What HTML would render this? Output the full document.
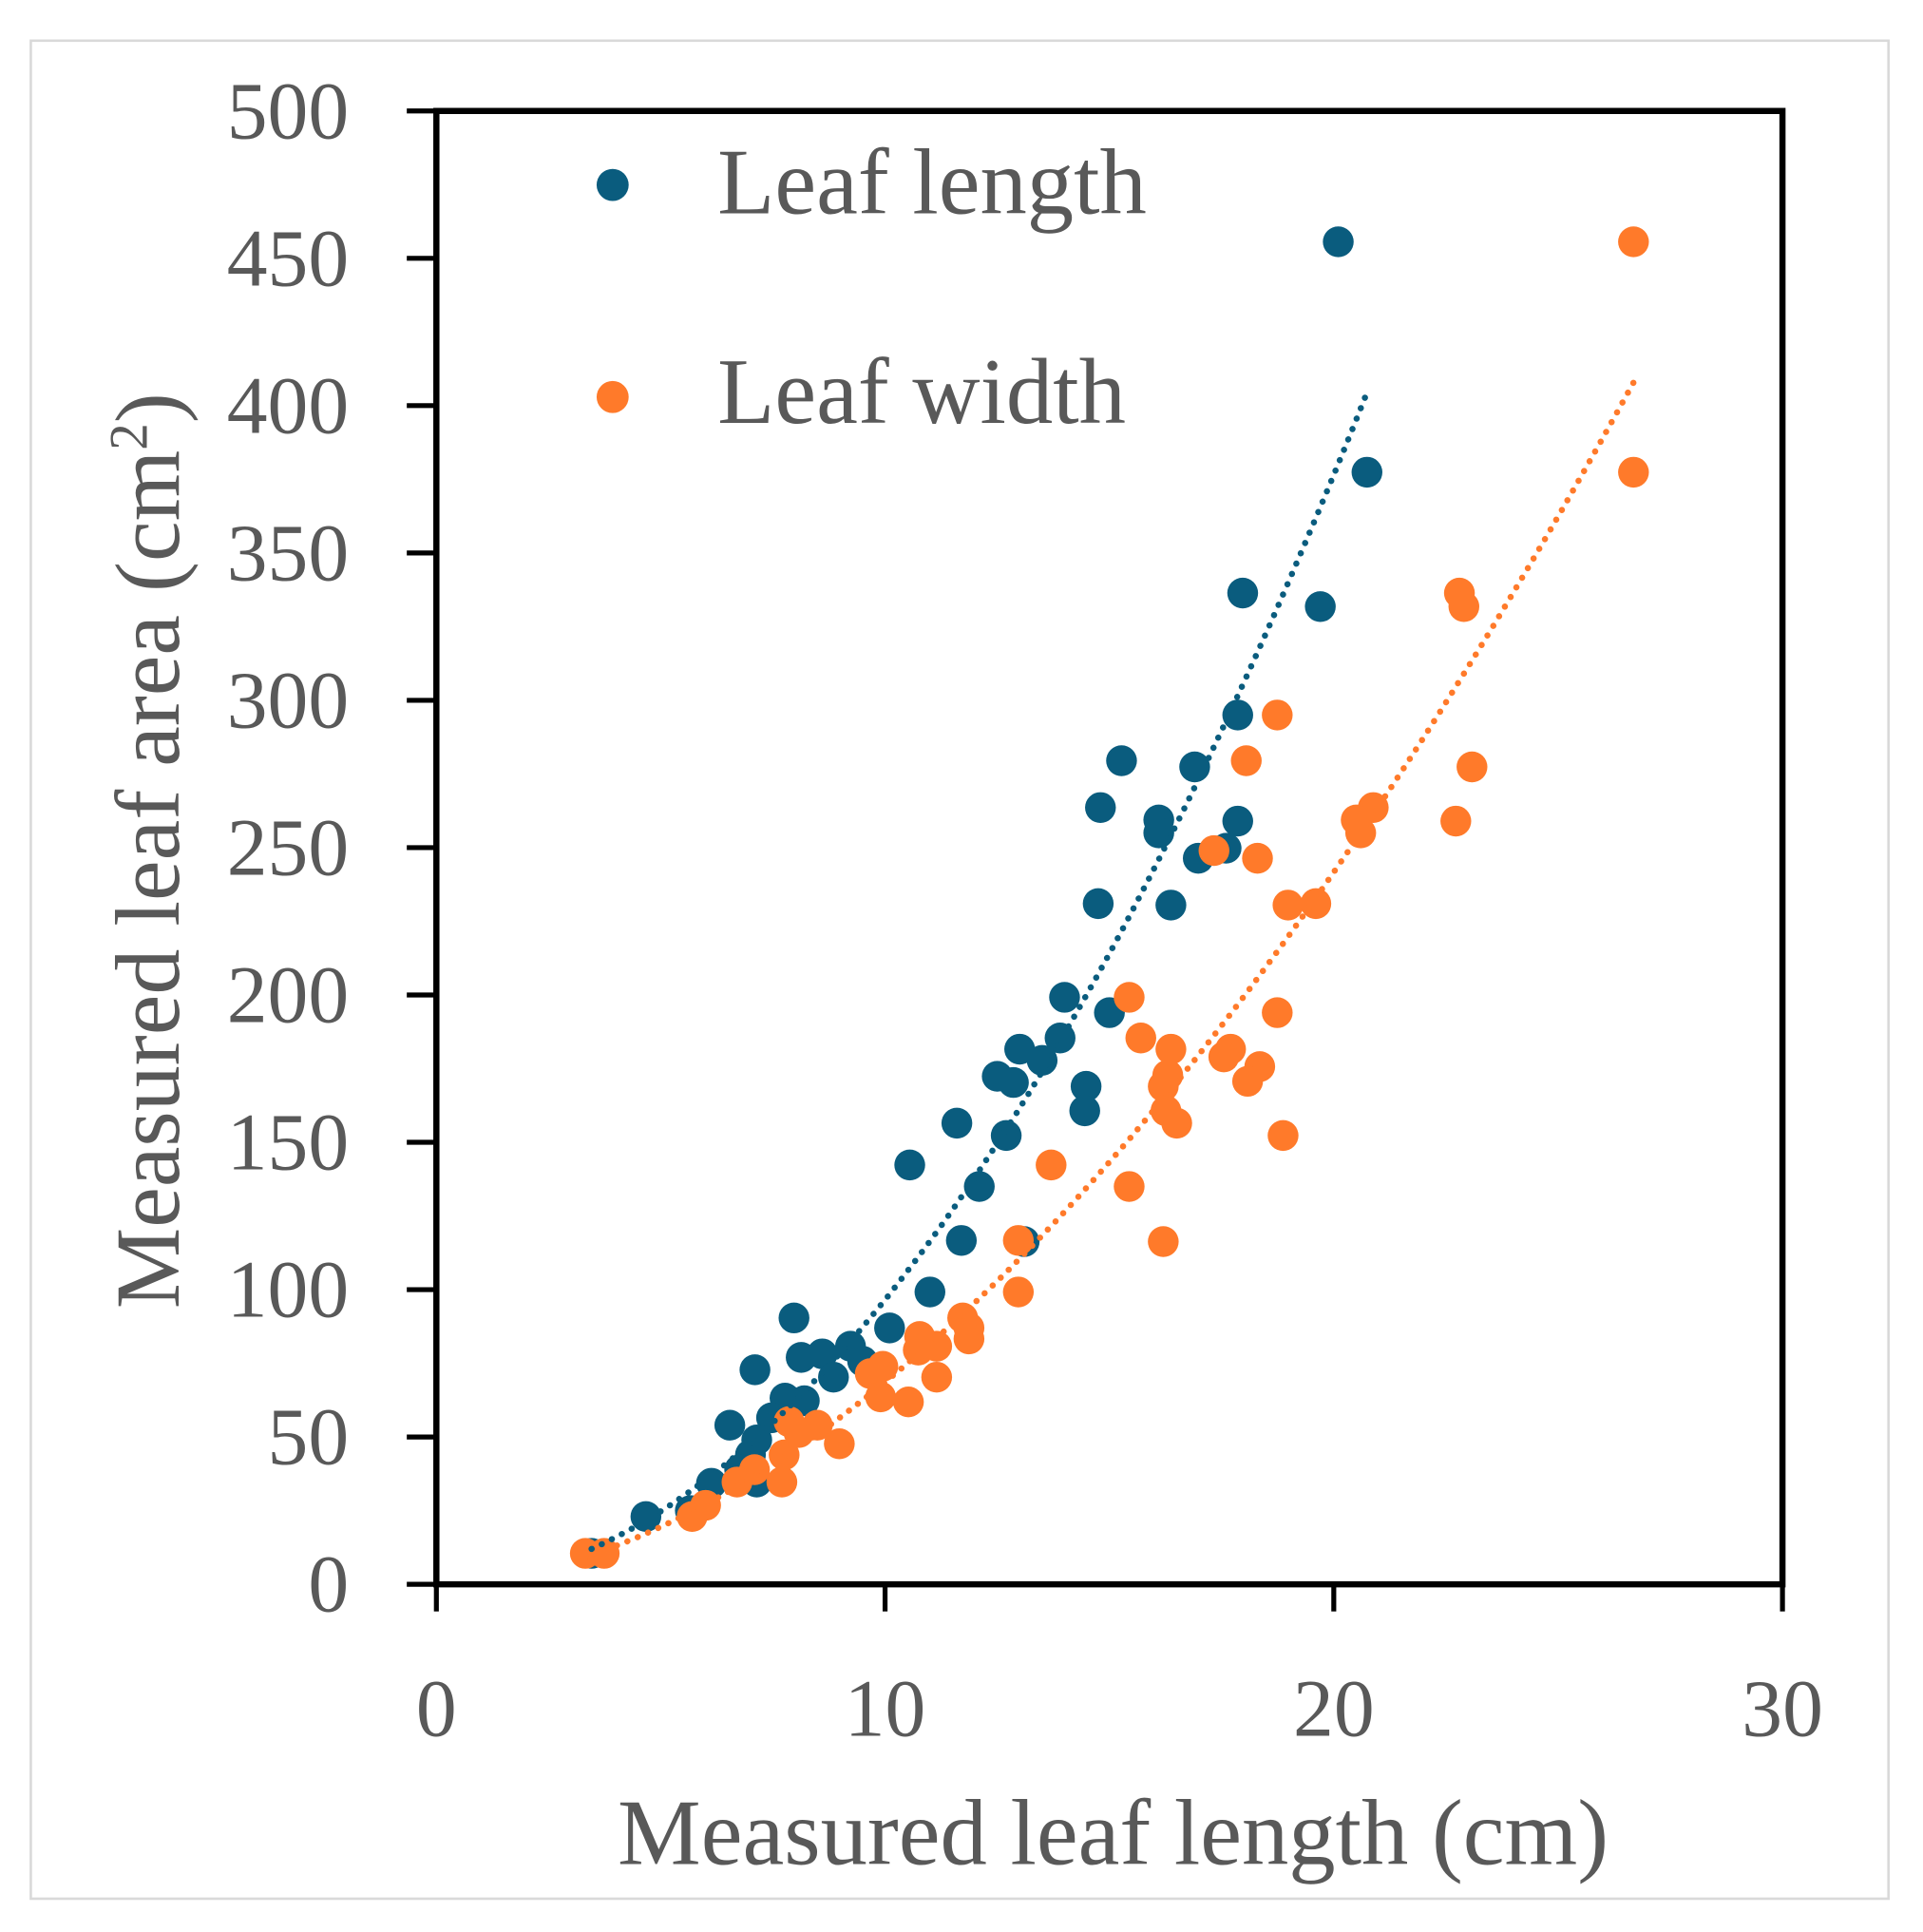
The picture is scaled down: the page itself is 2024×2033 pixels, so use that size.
<!DOCTYPE html>
<html><head><meta charset="utf-8"><style>
html,body{margin:0;padding:0;background:#fff;}
svg{display:block;}
text{font-family:"Liberation Serif",serif;fill:#595959;}
</style></head><body>
<svg id="chart" width="2024" height="2033" viewBox="0 0 1560 1567" preserveAspectRatio="none" xmlns="http://www.w3.org/2000/svg">
<rect x="25" y="33" width="1507" height="1507" fill="#fff" stroke="#d9d9d9" stroke-width="2"/>
<g id="plot"></g>
</svg>
<script>
const blueX=[20.1,20.74,17.97,19.7,17.86,15.27,16.9,14.8,16.1,17.86,16.1,16.98,17.6,14.75,16.37,14.0,15.0,13.9,13.0,13.5,12.5,12.86,14.48,14.45,11.6,12.7,10.55,12.1,11.7,13.1,11.0,7.97,10.1,9.23,8.6,8.13,8.85,9.5,7.1,7.77,8.2,6.54,7.47,7.14,7.0,6.76,7.14,6.13,4.67,5.66,3.46];
const blueY=[455.6,377.4,336.4,331.8,295,279.5,277.4,263.6,259.4,259,255,246.4,249.8,231,230.5,199.2,194,185.4,181.6,177.8,172.4,170.3,169,160.7,156.5,152.3,142.3,135,116.7,116.3,99.2,90.4,87,80.8,78.2,77,70.3,75.7,72.8,63.2,62.3,54,56.5,49,44,38.9,34.7,34.3,23,25,10.5];
const orangeX=[26.68,26.68,22.8,22.9,18.74,18.05,23.08,20.88,20.5,22.72,20.6,17.33,18.3,18.98,19.6,15.44,18.74,15.7,16.37,17.7,17.55,18.35,16.3,18.08,16.2,16.26,16.5,18.87,13.7,15.44,12.97,16.2,12.97,11.73,11.87,10.77,11.87,11.15,10.74,9.95,9.67,11.15,9.9,10.52,7.86,8.49,8.08,8.98,7.75,7.09,6.7,7.7,6.0,5.7,3.32,3.74];
const orangeY=[455.6,377.4,336.4,331.8,295,279.5,277.4,263.6,259.4,259,255,249,246.4,230.5,231,199.2,194,185.4,181.6,181.6,179,175.7,172.8,170.7,169,160.7,156.5,152.3,142.3,135,116.7,116.3,99.2,90.4,87,84.1,83.3,80.8,79.5,74,71.5,70.3,63.6,61.9,55.2,54,51.5,47.7,43.9,38.9,34.7,34.7,26.8,23,10.5,10.5];
const xTicks=[0,10,20,30];
const yTicks=[0,50,100,150,200,250,300,350,400,450,500];

const NS="http://www.w3.org/2000/svg";
const g=document.getElementById('plot');
const X0=354,X1=1446,Y0=1285,Y1=90;
const sx=v=>X0+(X1-X0)*v/30;
const sy=v=>Y0-(Y0-Y1)*v/500;
function el(t,a){const e=document.createElementNS(NS,t);for(const k in a)e.setAttribute(k,a[k]);g.appendChild(e);return e;}

let f=el('rect',{x:X0,y:Y1,width:X1-X0,height:Y0-Y1,fill:'none',stroke:'#000','stroke-width':5});



yTicks.forEach(v=>{
  const l=el('line',{x1:330,x2:X0,y1:sy(v),y2:sy(v),stroke:'#000','stroke-width':4});
  
  
  const t=el('text',{x:283,y:sy(v)+22,'text-anchor':'end','font-size':66});
  t.textContent=v;
  
  
});
xTicks.forEach(v=>{
  const l=el('line',{x1:sx(v),x2:sx(v),y1:Y0,y2:1307,stroke:'#000','stroke-width':4});
  
  
  const t=el('text',{x:sx(v),y:1408,'text-anchor':'middle','font-size':66});
  t.textContent=v;
  
  
});

function trend(xs,ys,color,name){
  const n=xs.length;let a=0,b=0,c=0,d=0;
  for(let i=0;i<n;i++){const lx=Math.log(xs[i]),ly=Math.log(ys[i]);a+=lx;b+=ly;c+=lx*lx;d+=lx*ly;}
  const k=(n*d-a*b)/(n*c-a*a),m=(b-k*a)/n;
  const mn=Math.min(...xs),mx=Math.max(...xs);
  let p='';
  for(let i=0;i<=60;i++){const x=mn+(mx-mn)*i/60;const y=Math.exp(m)*Math.pow(x,k);p+=(i?'L':'M')+sx(x).toFixed(1)+','+sy(y).toFixed(1);}
  const e=el('path',{d:p,fill:'none',stroke:color,'stroke-width':5,'stroke-dasharray':'0.1 9','stroke-linecap':'round'});
  
  
}
function pts(xs,ys,color,name){
  xs.forEach((x,i)=>{
    const c=el('circle',{cx:sx(x),cy:sy(ys[i]),r:12.5,fill:color});
    
    
  });
}
const BLUE='#0a5c7e',ORANGE='#ff7a2a';
pts(blueX,blueY,BLUE,'leaf-length-point');
pts(orangeX,orangeY,ORANGE,'leaf-width-point');
trend(blueX,blueY,BLUE,'leaf-length-trendline');
trend(orangeX,orangeY,ORANGE,'leaf-width-trendline');

let c1=el('circle',{cx:497,cy:150,r:13,fill:BLUE});


let t1=el('text',{x:582,y:173,'font-size':76});t1.textContent='Leaf length';


let c2=el('circle',{cx:497,cy:322,r:13,fill:ORANGE});


let t2=el('text',{x:582,y:343,'font-size':76});t2.textContent='Leaf width';



let xt=el('text',{x:903,y:1512,'text-anchor':'middle','font-size':76});xt.textContent='Measured leaf length (cm)';


let yt=el('text',{x:0,y:0,'text-anchor':'middle','font-size':74,transform:'translate(145,690) rotate(-90)'});
yt.innerHTML='Measured leaf area (cm<tspan font-size="44" dy="-26">2</tspan><tspan dy="26">)</tspan>';


</script>
</body></html>
